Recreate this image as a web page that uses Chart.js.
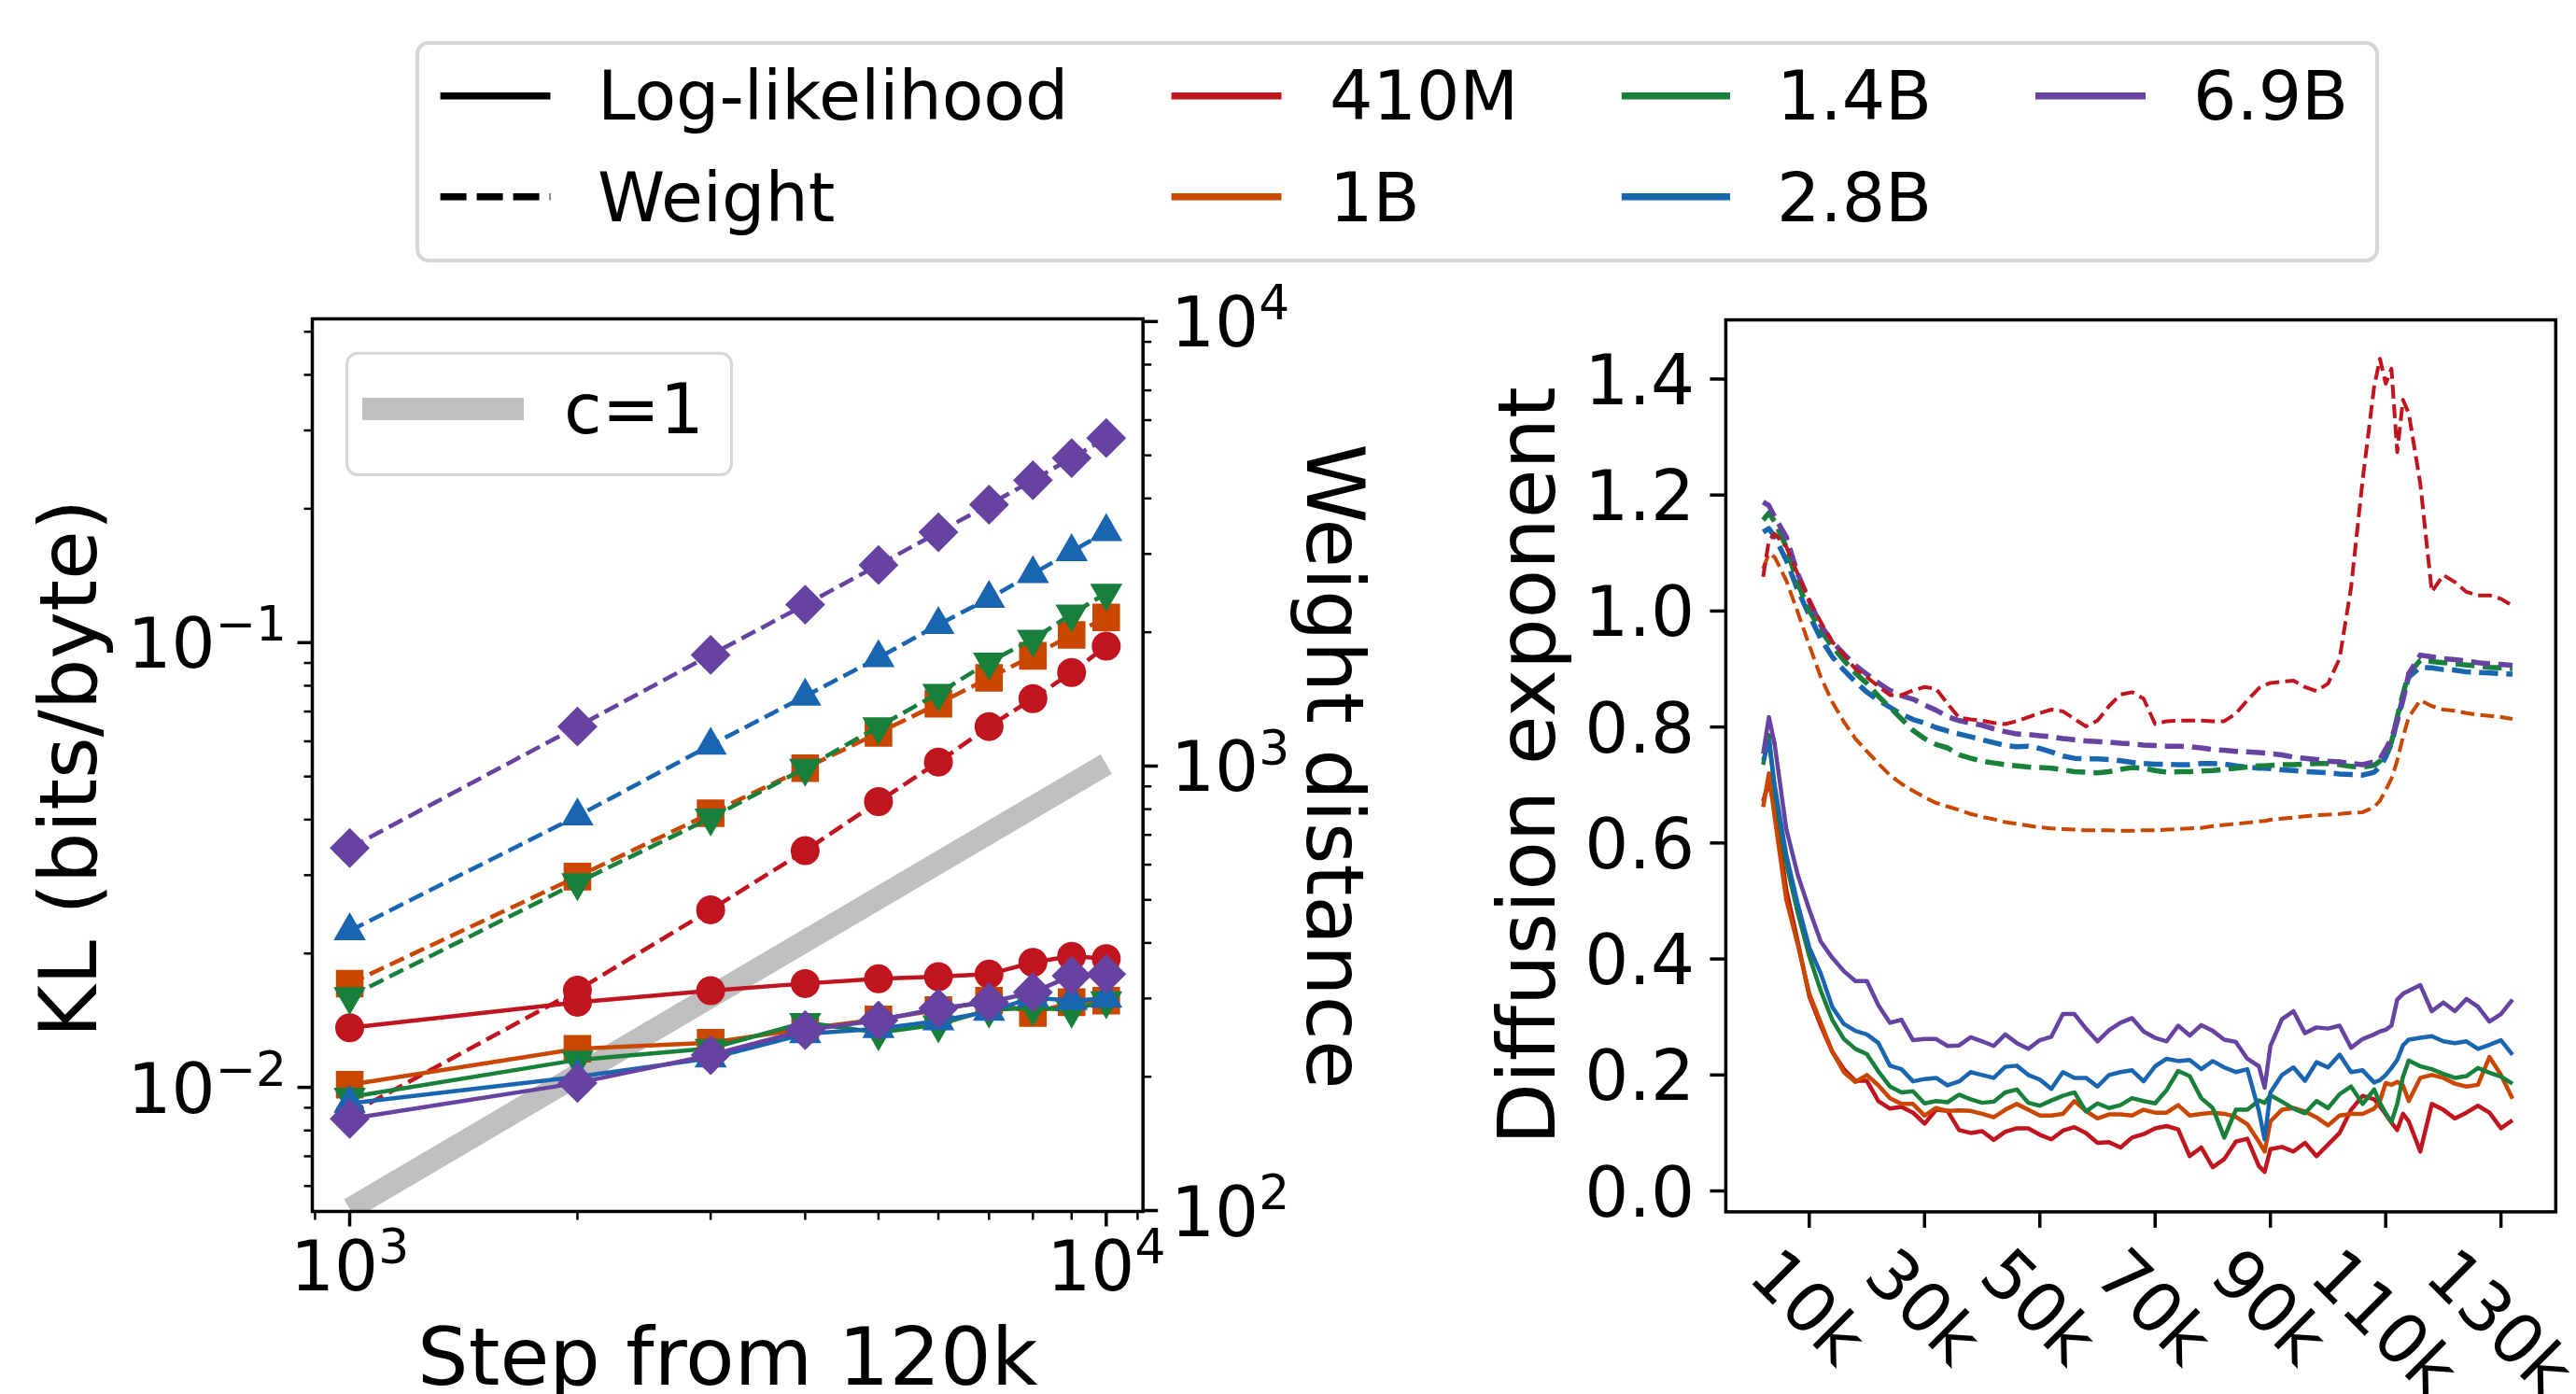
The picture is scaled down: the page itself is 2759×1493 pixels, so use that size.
<!doctype html>
<html>
<head>
<meta charset="utf-8">
<title>KL and diffusion exponent</title>
<script src="https://cdn.jsdelivr.net/npm/chart.js@4.4.0/dist/chart.umd.min.js"></script>
<style>
  body { margin: 0; background: #fff; }
  #page { position: relative; width: 2759px; height: 1493px; overflow: hidden; font-family: "DejaVu Sans", sans-serif; }
  #page canvas { position: absolute; left: 0; top: 0; }
  #legend { position: absolute; left: 445px; top: 44px; width: 2103px; height: 237px; box-sizing: border-box;
            border: 4px solid #d6d6d6; border-radius: 14px; background: #fff; }
  #legend svg { position: absolute; left: 0; top: 0; }
  .lab { position: absolute; font-size: 73px; line-height: 1; white-space: nowrap; color: #000; }
</style>
</head>
<body>
<div id="page">
  <canvas id="kl" width="2759" height="1493" style="width:2759px;height:1493px"></canvas>
  <canvas id="diff" width="2759" height="1493" style="width:2759px;height:1493px"></canvas>
  <div id="legend">
    <svg width="2095" height="229">
      <line x1="22.6" y1="54.7" x2="140.5" y2="54.7" stroke="#000" stroke-width="7.5"/>
      <line x1="22.6" y1="162.7" x2="140.5" y2="162.7" stroke="#000" stroke-width="7.5" stroke-dasharray="28 11"/>
      <line x1="805.6" y1="54.7" x2="923.5" y2="54.7" stroke="#c0141e" stroke-width="7.5"/>
      <line x1="805.6" y1="162.7" x2="923.5" y2="162.7" stroke="#c94700" stroke-width="7.5"/>
      <line x1="1287.8" y1="54.7" x2="1404" y2="54.7" stroke="#19803c" stroke-width="7.5"/>
      <line x1="1287.8" y1="162.7" x2="1404" y2="162.7" stroke="#1a65b0" stroke-width="7.5"/>
      <line x1="1731" y1="54.7" x2="1849" y2="54.7" stroke="#6643a0" stroke-width="7.5"/>
    </svg>
    <span class="lab" style="left:191px;top:18px">Log-likelihood</span>
    <span class="lab" style="left:191px;top:127px">Weight</span>
    <span class="lab" style="left:975px;top:18px">410M</span>
    <span class="lab" style="left:975px;top:127px">1B</span>
    <span class="lab" style="left:1454px;top:18px">1.4B</span>
    <span class="lab" style="left:1454px;top:127px">2.8B</span>
    <span class="lab" style="left:1900px;top:18px">6.9B</span>
  </div>
</div>
<script>
// ---- left panel: KL (solid, left axis) and weight distance (dashed, right axis)
const klSteps = [1000, 2000, 3000, 4000, 5000, 6000, 7000, 8000, 9000, 10000];
const klLL410M = [0.01362, 0.01554, 0.01650, 0.01712, 0.01754, 0.01774, 0.01797, 0.0191, 0.01972, 0.01947];
const klLL1B   = [0.01014, 0.01221, 0.0126, 0.01355, 0.01422, 0.01493, 0.01566, 0.01469, 0.01554, 0.01566];
const klLL14B  = [0.00951, 0.01153, 0.01224, 0.0140, 0.01327, 0.01384, 0.01493, 0.0151, 0.01493, 0.01566];
const klLL28B  = [0.0092, 0.01056, 0.01163, 0.01319, 0.01355, 0.01411, 0.01481, 0.01592, 0.01567, 0.01585];
const klLL69B  = [0.0085, 0.01023, 0.01182, 0.01345, 0.01415, 0.01505, 0.01554, 0.01636, 0.01782, 0.01797];
const wd410M = [165, 313, 475, 645, 832, 1021, 1227, 1418, 1624, 1861];
const wd1B   = [324, 564, 783, 989, 1187, 1381, 1579, 1770, 1972, 2159];
const wd14B  = [303, 547, 764, 989, 1227, 1458, 1714, 1930, 2198, 2449];
const wd28B  = [426, 772, 1114, 1436, 1752, 2080, 2383, 2709, 3035, 3366];
const wd69B  = [654, 1227, 1778, 2307, 2833, 3357, 3872, 4395, 4930, 5468];
const c1Steps = [1000, 10000];
const c1KL = [0.00533, 0.0533];

// ticks of the left panel
const klXMajor = [1000, 10000];
const klXExp = ['3', '4'];
const klXMinor = [900, 2000, 3000, 4000, 5000, 6000, 7000, 8000, 9000, 11000];
const klYMajor = [0.01, 0.1];
const klYExp = ['\u22122', '\u22121'];
const klYMinor = [0.006, 0.007, 0.008, 0.009, 0.02, 0.03, 0.04, 0.05, 0.06, 0.07, 0.08, 0.09, 0.2, 0.3, 0.4, 0.5];
const wdMajor = [100, 1000, 10000];
const wdExp = ['2', '3', '4'];
const wdMinor = [200, 300, 400, 500, 600, 700, 800, 900, 2000, 3000, 4000, 5000, 6000, 7000, 8000, 9000];

// ---- right panel: diffusion exponent over training step (k)
const diffSteps = [2, 3, 4, 6, 8, 10, 12, 14, 16, 18, 20, 22, 24, 26, 28, 30, 32, 34, 36, 38, 40, 42, 44, 46, 48,
  50, 52, 54, 56, 58, 60, 62, 64, 66, 68, 70, 72, 74, 76, 78, 80, 82, 84, 86, 88, 89, 90, 92, 94, 96, 98, 100,
  102, 104, 106, 108, 109, 110, 111, 112, 113, 114, 116, 118, 120, 122, 124, 126, 128, 130, 132];
const dW410M = [1.059, 1.122, 1.133, 1.111, 1.064, 1.018, 0.981, 0.947, 0.924, 0.900,
  0.886, 0.870, 0.855, 0.855, 0.863, 0.869, 0.866, 0.840, 0.816, 0.813,
  0.811, 0.807, 0.805, 0.810, 0.817, 0.824, 0.830, 0.827, 0.814, 0.801,
  0.811, 0.836, 0.856, 0.860, 0.849, 0.805, 0.810, 0.811, 0.811, 0.811,
  0.810, 0.810, 0.823, 0.846, 0.867, 0.872, 0.876, 0.878, 0.880, 0.869,
  0.862, 0.875, 0.918, 1.041, 1.226, 1.387, 1.435, 1.392, 1.418, 1.274,
  1.364, 1.341, 1.220, 1.033, 1.062, 1.050, 1.033, 1.027, 1.027, 1.021, 1.009];
const dW1B = [1.073, 1.099, 1.093, 1.053, 0.998, 0.941, 0.886, 0.843, 0.809, 0.780,
  0.758, 0.737, 0.717, 0.702, 0.690, 0.679, 0.669, 0.663, 0.657, 0.650,
  0.645, 0.641, 0.636, 0.633, 0.630, 0.627, 0.625, 0.624, 0.623, 0.622,
  0.622, 0.622, 0.621, 0.621, 0.622, 0.622, 0.623, 0.624, 0.625, 0.626,
  0.629, 0.631, 0.633, 0.635, 0.637, 0.638, 0.640, 0.642, 0.644, 0.646,
  0.648, 0.649, 0.650, 0.652, 0.653, 0.662, 0.673, 0.691, 0.711, 0.742,
  0.783, 0.817, 0.846, 0.836, 0.830, 0.828, 0.824, 0.821, 0.819, 0.817, 0.814];
const dW14B = [1.157, 1.169, 1.154, 1.111, 1.047, 1.001, 0.967, 0.939, 0.915, 0.893,
  0.875, 0.853, 0.834, 0.814, 0.794, 0.780, 0.770, 0.764, 0.752, 0.746,
  0.741, 0.738, 0.735, 0.733, 0.731, 0.730, 0.729, 0.726, 0.723, 0.722,
  0.721, 0.723, 0.727, 0.730, 0.729, 0.725, 0.722, 0.723, 0.723, 0.724,
  0.725, 0.727, 0.729, 0.731, 0.733, 0.733, 0.734, 0.735, 0.735, 0.736,
  0.737, 0.737, 0.735, 0.732, 0.731, 0.734, 0.741, 0.754, 0.774, 0.817,
  0.857, 0.892, 0.915, 0.913, 0.911, 0.909, 0.907, 0.905, 0.903, 0.902, 0.901];
const dW28B = [1.136, 1.142, 1.128, 1.088, 1.036, 0.993, 0.952, 0.921, 0.898, 0.878,
  0.860, 0.846, 0.834, 0.822, 0.813, 0.807, 0.799, 0.793, 0.788, 0.783,
  0.778, 0.773, 0.768, 0.766, 0.767, 0.763, 0.757, 0.750, 0.746, 0.745,
  0.745, 0.744, 0.742, 0.739, 0.737, 0.736, 0.736, 0.735, 0.735, 0.737,
  0.737, 0.736, 0.733, 0.731, 0.729, 0.729, 0.728, 0.726, 0.725, 0.723,
  0.722, 0.721, 0.719, 0.718, 0.717, 0.722, 0.731, 0.748, 0.771, 0.811,
  0.852, 0.886, 0.903, 0.902, 0.899, 0.898, 0.895, 0.894, 0.893, 0.892, 0.891];
const dW69B = [1.188, 1.182, 1.162, 1.128, 1.064, 1.018, 0.975, 0.947, 0.926, 0.906,
  0.891, 0.876, 0.863, 0.854, 0.848, 0.838, 0.829, 0.818, 0.811, 0.807,
  0.803, 0.797, 0.792, 0.788, 0.787, 0.785, 0.783, 0.780, 0.778, 0.776,
  0.775, 0.774, 0.772, 0.771, 0.769, 0.768, 0.767, 0.767, 0.766, 0.764,
  0.761, 0.760, 0.758, 0.757, 0.756, 0.755, 0.754, 0.752, 0.748, 0.746,
  0.744, 0.741, 0.740, 0.737, 0.735, 0.740, 0.745, 0.762, 0.780, 0.811,
  0.846, 0.892, 0.924, 0.921, 0.918, 0.916, 0.914, 0.911, 0.909, 0.908, 0.906];
const dLL410M = [0.672, 0.705, 0.660, 0.520, 0.430, 0.336, 0.285, 0.240, 0.210, 0.190,
  0.190, 0.155, 0.142, 0.145, 0.135, 0.116, 0.140, 0.138, 0.105, 0.100,
  0.103, 0.088, 0.102, 0.108, 0.108, 0.097, 0.089, 0.104, 0.110, 0.100,
  0.083, 0.084, 0.075, 0.092, 0.098, 0.108, 0.112, 0.106, 0.060, 0.075,
  0.041, 0.055, 0.085, 0.090, 0.043, 0.033, 0.072, 0.076, 0.068, 0.083,
  0.060, 0.080, 0.100, 0.140, 0.164, 0.158, 0.146, 0.132, 0.118, 0.105,
  0.133, 0.120, 0.068, 0.150, 0.140, 0.125, 0.135, 0.147, 0.135, 0.108, 0.122];
const dLL1B = [0.662, 0.720, 0.645, 0.503, 0.425, 0.340, 0.290, 0.240, 0.205, 0.188,
  0.200, 0.182, 0.160, 0.150, 0.150, 0.130, 0.143, 0.138, 0.139, 0.138,
  0.133, 0.127, 0.140, 0.150, 0.140, 0.130, 0.130, 0.133, 0.155, 0.138,
  0.125, 0.132, 0.132, 0.130, 0.140, 0.135, 0.135, 0.148, 0.130, 0.133,
  0.135, 0.133, 0.128, 0.115, 0.085, 0.068, 0.120, 0.140, 0.143, 0.137,
  0.127, 0.113, 0.130, 0.133, 0.133, 0.142, 0.155, 0.186, 0.183, 0.188,
  0.182, 0.155, 0.195, 0.200, 0.195, 0.185, 0.180, 0.183, 0.231, 0.200, 0.159];
const dLL14B = [0.735, 0.786, 0.690, 0.565, 0.480, 0.405, 0.345, 0.295, 0.262, 0.245,
  0.236, 0.206, 0.180, 0.170, 0.172, 0.151, 0.155, 0.153, 0.166, 0.158,
  0.152, 0.154, 0.170, 0.175, 0.152, 0.147, 0.156, 0.164, 0.170, 0.137,
  0.151, 0.143, 0.148, 0.160, 0.155, 0.151, 0.174, 0.207, 0.198, 0.160,
  0.143, 0.092, 0.140, 0.140, 0.156, 0.152, 0.165, 0.154, 0.142, 0.134,
  0.155, 0.143, 0.167, 0.180, 0.150, 0.175, 0.152, 0.134, 0.119, 0.150,
  0.197, 0.225, 0.215, 0.210, 0.202, 0.195, 0.198, 0.212, 0.204, 0.197, 0.185];
const dLL28B = [0.742, 0.775, 0.700, 0.580, 0.495, 0.420, 0.375, 0.317, 0.288, 0.276,
  0.270, 0.255, 0.216, 0.210, 0.189, 0.193, 0.195, 0.182, 0.189, 0.205,
  0.200, 0.195, 0.214, 0.216, 0.200, 0.192, 0.176, 0.205, 0.195, 0.195,
  0.180, 0.200, 0.205, 0.208, 0.189, 0.215, 0.228, 0.224, 0.226, 0.210,
  0.224, 0.213, 0.205, 0.210, 0.138, 0.089, 0.170, 0.200, 0.213, 0.190,
  0.222, 0.213, 0.235, 0.205, 0.208, 0.187, 0.191, 0.200, 0.212, 0.226,
  0.251, 0.261, 0.264, 0.267, 0.258, 0.255, 0.258, 0.245, 0.252, 0.260, 0.235];
const dLL69B = [0.754, 0.817, 0.770, 0.625, 0.545, 0.485, 0.430, 0.402, 0.379, 0.362,
  0.362, 0.320, 0.290, 0.295, 0.260, 0.262, 0.262, 0.250, 0.251, 0.265,
  0.258, 0.250, 0.270, 0.255, 0.245, 0.260, 0.266, 0.305, 0.305, 0.280,
  0.258, 0.277, 0.290, 0.298, 0.275, 0.264, 0.258, 0.285, 0.268, 0.286,
  0.276, 0.261, 0.257, 0.228, 0.215, 0.178, 0.250, 0.296, 0.310, 0.272,
  0.282, 0.280, 0.285, 0.247, 0.262, 0.270, 0.275, 0.278, 0.285, 0.330,
  0.340, 0.345, 0.355, 0.310, 0.325, 0.310, 0.331, 0.318, 0.292, 0.305, 0.330];

const diffXTicks = [10, 30, 50, 70, 90, 110, 130];
const diffXLabels = ['10k', '30k', '50k', '70k', '90k', '110k', '130k'];
const diffYTicks = [0, 0.2, 0.4, 0.6, 0.8, 1.0, 1.2, 1.4];
const diffYLabels = ['0.0', '0.2', '0.4', '0.6', '0.8', '1.0', '1.2', '1.4'];

// ---- styles
const FONT = '"DejaVu Sans", sans-serif';
const TICK = 74, TITLE = 86;
const col = { m410: '#c0141e', b1: '#c94700', b14: '#19803c', b28: '#1a65b0', b69: '#6643a0' };

function pts(xs, ys) { return xs.map((x, i) => ({ x: x, y: ys[i] })); }

function tick(ctx, x, y, dx, dy, w) {
  ctx.lineWidth = w;
  ctx.beginPath(); ctx.moveTo(x, y); ctx.lineTo(x + dx, y + dy); ctx.stroke();
}

// "10" with a raised exponent, y = vertical centre of the digits
function powLabel(ctx, exp, x, y, align) {
  ctx.font = TICK + 'px ' + FONT;
  const wb = ctx.measureText('10').width;
  const es = TICK * 0.7;
  ctx.font = es + 'px ' + FONT;
  const we = ctx.measureText(exp).width;
  const total = wb + we;
  const sx = align === 'right' ? x - total : align === 'center' ? x - total / 2 : x;
  const base = y + 0.3645 * TICK;
  ctx.textAlign = 'left'; ctx.textBaseline = 'alphabetic';
  ctx.font = TICK + 'px ' + FONT;
  ctx.fillText('10', sx, base);
  ctx.font = es + 'px ' + FONT;
  ctx.fillText(exp, sx + wb, base - 0.39 * TICK);
}

function title(ctx, text, x, y, rot) {
  ctx.save();
  ctx.translate(x, y); ctx.rotate(rot);
  ctx.font = TITLE + 'px ' + FONT;
  ctx.textAlign = 'center'; ctx.textBaseline = 'alphabetic';
  ctx.fillText(text, 0, 0);
  ctx.restore();
}

const klAxes = {
  id: 'klAxes',
  afterDraw(chart) {
    const { ctx, chartArea: a } = chart;
    const { x, y, y2 } = chart.scales;
    ctx.save();
    ctx.strokeStyle = '#000'; ctx.fillStyle = '#000';
    ctx.lineWidth = 3.5;
    ctx.strokeRect(a.left, a.top, a.right - a.left, a.bottom - a.top);

    klXMajor.forEach((v, i) => {
      const px = x.getPixelForValue(v);
      tick(ctx, px, a.bottom, 0, 16, 3.5);
      powLabel(ctx, klXExp[i], px, 1355, 'center');
    });
    klXMinor.forEach(v => tick(ctx, x.getPixelForValue(v), a.bottom, 0, 9, 2.5));
    klYMajor.forEach((v, i) => {
      const py = y.getPixelForValue(v);
      tick(ctx, a.left, py, -16, 0, 3.5);
      powLabel(ctx, klYExp[i], 307, py, 'right');
    });
    klYMinor.forEach(v => tick(ctx, a.left, y.getPixelForValue(v), -9, 0, 2.5));
    wdMajor.forEach((v, i) => {
      const py = y2.getPixelForValue(v);
      tick(ctx, a.right, py, 16, 0, 3.5);
      powLabel(ctx, wdExp[i], 1254, py, 'left');
    });
    wdMinor.forEach(v => tick(ctx, a.right, y2.getPixelForValue(v), 9, 0, 2.5));

    title(ctx, 'KL (bits/byte)', 103, 823, -Math.PI / 2);
    title(ctx, 'Weight distance', 1400, 821, Math.PI / 2);
    title(ctx, 'Step from 120k', (a.left + a.right) / 2, 1483, 0);

    // inner legend for the reference slope
    ctx.beginPath();
    ctx.roundRect(371.5, 378.2, 412, 130.4, 12);
    ctx.fillStyle = 'rgba(255,255,255,0.8)'; ctx.fill();
    ctx.strokeStyle = '#d6d6d6'; ctx.lineWidth = 3; ctx.stroke();
    ctx.strokeStyle = '#bfbfbf'; ctx.lineWidth = 24;
    ctx.beginPath(); ctx.moveTo(388, 438); ctx.lineTo(561, 438); ctx.stroke();
    ctx.fillStyle = '#000';
    ctx.font = TICK + 'px ' + FONT; ctx.textAlign = 'left'; ctx.textBaseline = 'alphabetic';
    ctx.fillText('c=1', 604, 464);
    ctx.restore();
  }
};

const diffAxes = {
  id: 'diffAxes',
  afterDraw(chart) {
    const { ctx, chartArea: a } = chart;
    const { x, y } = chart.scales;
    ctx.save();
    ctx.strokeStyle = '#000'; ctx.fillStyle = '#000';
    ctx.lineWidth = 3.5;
    ctx.strokeRect(a.left, a.top, a.right - a.left, a.bottom - a.top);
    ctx.font = TICK + 'px ' + FONT;

    diffYTicks.forEach((v, i) => {
      const py = y.getPixelForValue(v);
      tick(ctx, a.left, py, -17, 0, 3.5);
      ctx.textAlign = 'right'; ctx.textBaseline = 'alphabetic';
      ctx.fillText(diffYLabels[i], 1815, py + 0.3645 * TICK);
    });
    diffXTicks.forEach((v, i) => {
      const px = x.getPixelForValue(v);
      tick(ctx, px, a.bottom, 0, 17, 3.5);
      const label = diffXLabels[i];
      const w = ctx.measureText(label).width;
      const cy = a.bottom + 33 + (w + 0.729 * TICK) * Math.SQRT1_2 / 2;
      ctx.save();
      ctx.translate(px, cy); ctx.rotate(Math.PI / 4);
      ctx.textAlign = 'center'; ctx.textBaseline = 'alphabetic';
      ctx.fillText(label, 0, 0.3645 * TICK);
      ctx.restore();
    });
    title(ctx, 'Diffusion exponent', 1665, (a.top + a.bottom) / 2, -Math.PI / 2);
    ctx.restore();
  }
};

function klSet(vals, color, marker, axis, dashed, order, rot) {
  return {
    data: pts(klSteps, vals), yAxisID: axis, order: order,
    borderColor: color, borderWidth: 4.5, borderDash: dashed ? [16.6, 7.2] : [],
    pointStyle: marker.style, pointRadius: marker.r, pointRotation: rot || 0,
    pointBackgroundColor: color, pointBorderColor: color, pointBorderWidth: 2,
    tension: 0, fill: false
  };
}
const mk = {
  circle: { style: 'circle', r: 14.5 }, square: { style: 'rect', r: 19.5 },
  tri: { style: 'triangle', r: 18 }, diamond: { style: 'rectRot', r: 20 }
};

new Chart(document.getElementById('kl'), {
  type: 'line',
  data: {
    datasets: [
      klSet(klLL69B, col.b69, mk.diamond, 'y', false, 1),
      klSet(wd69B, col.b69, mk.diamond, 'y2', true, 1),
      klSet(klLL28B, col.b28, mk.tri, 'y', false, 2),
      klSet(wd28B, col.b28, mk.tri, 'y2', true, 2),
      klSet(klLL14B, col.b14, mk.tri, 'y', false, 3, 180),
      klSet(wd14B, col.b14, mk.tri, 'y2', true, 3, 180),
      klSet(klLL1B, col.b1, mk.square, 'y', false, 4),
      klSet(wd1B, col.b1, mk.square, 'y2', true, 4),
      klSet(klLL410M, col.m410, mk.circle, 'y', false, 5),
      klSet(wd410M, col.m410, mk.circle, 'y2', true, 5),
      { data: pts(c1Steps, c1KL), yAxisID: 'y', order: 20, borderColor: '#bfbfbf', borderWidth: 24,
        pointRadius: 0, clip: 0, tension: 0 }
    ]
  },
  options: {
    responsive: false, animation: false, devicePixelRatio: 1,
    layout: { padding: { left: 334.5, right: 2759 - 1224.2, top: 341.5, bottom: 1493 - 1297.5 } },
    plugins: { legend: { display: false }, tooltip: { enabled: false } },
    scales: {
      x: { type: 'logarithmic', display: false, bounds: 'data', min: Math.pow(10, 2.9506), max: Math.pow(10, 4.0486) },
      y: { type: 'logarithmic', display: false, bounds: 'data', position: 'left', min: Math.pow(10, -2.279), max: Math.pow(10, -0.272) },
      y2: { type: 'logarithmic', display: false, bounds: 'data', position: 'right', min: Math.pow(10, 1.998), max: Math.pow(10, 4.006) }
    }
  },
  plugins: [klAxes]
});

function dSet(vals, color, dashed, width, order) {
  return {
    data: pts(diffSteps, vals), order: order,
    borderColor: color, borderWidth: width,
    borderDash: dashed ? [3.7 * width, 1.6 * width] : [],
    borderJoinStyle: 'round', pointRadius: 0, tension: 0, fill: false
  };
}

new Chart(document.getElementById('diff'), {
  type: 'line',
  data: {
    datasets: [
      dSet(dW410M, col.m410, true, 4, 1),
      dSet(dW69B, col.b69, true, 5.5, 2),
      dSet(dW14B, col.b14, true, 5.5, 3),
      dSet(dW28B, col.b28, true, 5.5, 4),
      dSet(dW1B, col.b1, true, 4, 5),
      dSet(dLL69B, col.b69, false, 4.5, 6),
      dSet(dLL28B, col.b28, false, 4.5, 7),
      dSet(dLL14B, col.b14, false, 4.5, 8),
      dSet(dLL1B, col.b1, false, 4.5, 9),
      dSet(dLL410M, col.m410, false, 4.5, 10)
    ]
  },
  options: {
    responsive: false, animation: false, devicePixelRatio: 1,
    layout: { padding: { left: 1848.4, right: 2759 - 2737.3, top: 342.6, bottom: 1493 - 1297.9 } },
    plugins: { legend: { display: false }, tooltip: { enabled: false } },
    scales: {
      x: { type: 'linear', display: false, bounds: 'data', min: -4.48, max: 139.5 },
      y: { type: 'linear', display: false, bounds: 'data', min: -0.036, max: 1.502 }
    }
  },
  plugins: [diffAxes]
});
</script>
</body>
</html>
